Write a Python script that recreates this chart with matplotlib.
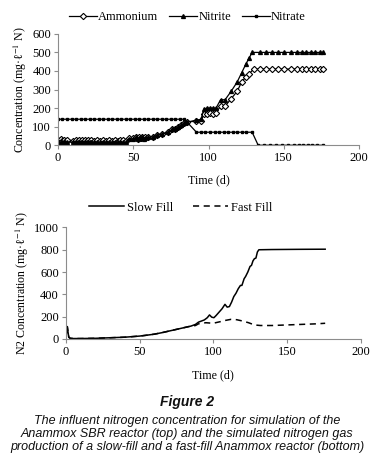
import numpy as np
import matplotlib
matplotlib.use("Agg")
import matplotlib.pyplot as plt

# ---- top panel: influent concentrations ----
amm_day = [0, 1, 2, 3, 4, 5, 6, 10, 11, 12, 13, 14, 15, 16, 18, 19, 20, 21, 22, 24, 26,
           28, 30, 32, 34, 36, 38, 40, 41, 43, 45, 47, 50, 52, 53, 54, 55, 56, 57, 58, 60,
           63, 66, 69, 73, 76, 78, 80, 82, 84, 86, 92, 95, 97, 99, 101, 103, 105, 108, 111,
           115, 119, 122, 125, 127, 130, 134, 138, 142, 146, 150, 155, 159, 162, 165, 168,
           171, 174, 176]
amm_val = [30, 20, 32, 22, 30, 18, 28, 25, 18, 30, 22, 28, 20, 26, 30, 22, 28, 20, 30, 24,
           28, 22, 30, 24, 28, 22, 30, 24, 30, 28, 25, 40, 38, 45, 35, 42, 40, 45, 38, 42, 45,
           45, 55, 60, 70, 85, 90, 100, 110, 120, 125, 130, 130, 170, 170, 175, 170, 175,
           210, 210, 250, 290, 340, 370, 385, 410, 410, 410, 410, 410, 410, 410, 410, 410,
           410, 410, 410, 410, 410]

nit_day = [0, 1, 2, 3, 4, 5, 6, 10, 11, 12, 13, 14, 15, 16, 18, 19, 20, 21, 22, 24, 26,
           28, 30, 32, 34, 36, 38, 40, 41, 43, 45, 47, 50, 52, 53, 54, 55, 56, 57, 58, 60,
           63, 66, 69, 73, 76, 78, 80, 82, 84, 86, 92, 95, 97, 99, 101, 103, 105, 108, 111,
           115, 119, 122, 125, 127, 129, 134, 138, 142, 146, 150, 155, 159, 162, 165, 168,
           171, 174, 176]
nit_val = [15, 18, 14, 20, 16, 18, 15, 18, 14, 20, 16, 18, 15, 18, 20, 16, 18, 15, 20, 16,
           18, 15, 20, 16, 18, 15, 20, 16, 18, 16, 15, 35, 35, 42, 32, 40, 38, 42, 35, 40, 42,
           45, 55, 60, 70, 85, 90, 100, 110, 120, 125, 135, 140, 195, 200, 200, 200, 200,
           245, 245, 290, 340, 390, 440, 470, 500, 500, 500, 500, 500, 500, 500, 500, 500,
           500, 500, 500, 500, 500]

nat_day = [0, 3, 6, 9, 12, 15, 18, 21, 24, 27, 30, 33, 36, 39, 42, 45, 48, 51, 54, 57, 60,
           63, 66, 69, 72, 75, 78, 81, 84, 92, 95, 98, 101, 104, 107, 110, 113, 116, 119,
           122, 125, 129, 133, 137, 141, 145, 149, 153, 157, 160, 163, 166, 169, 172, 176]
nat_val = [140] * 29 + [70] * 13 + [0] * 13

# ---- bottom panel: simulated N2 ----
slow_day = [0, 0.5, 1, 1.5, 2, 3, 5, 10, 20, 30, 40, 50, 55, 60, 65, 70, 75, 80, 85, 88,
            90, 92, 94, 96, 97.5, 99, 100.5, 102, 104, 106, 108, 109.5, 111, 112.5, 114,
            115.5, 117, 118.5, 119.5, 121, 122, 123.5, 125, 126, 127, 128, 129, 130, 131,
            140, 150, 160, 176]
slow_val = [0, 60, 110, 60, 15, 5, 3, 3, 5, 10, 15, 25, 33, 42, 55, 70, 85, 100, 115, 130,
            150, 160, 170, 190, 215, 195, 190, 210, 240, 270, 310, 285, 290, 330, 380, 410,
            450, 480, 480, 540, 560, 600, 650, 660, 700, 720, 725, 780, 800, 802, 803, 804,
            805]

fast_day = [0, 0.5, 1, 1.5, 2, 3, 5, 10, 20, 30, 40, 50, 55, 60, 65, 70, 75, 80, 85, 88,
            90, 95, 100, 105, 108, 112, 116, 120, 124, 128, 132, 140, 150, 160, 170, 176]
fast_val = [0, 60, 110, 60, 15, 5, 3, 3, 5, 10, 15, 25, 33, 42, 55, 70, 85, 100, 115, 120,
            135, 145, 140, 155, 165, 175, 172, 160, 145, 125, 120, 120, 125, 130, 135, 140]

serif = "Liberation Serif"
plt.rcParams["font.family"] = serif
plt.rcParams["mathtext.fontset"] = "stix"
plt.rcParams["font.size"] = 8.6

fig = plt.figure(figsize=(3.74, 4.70), dpi=100)


def style_axes(ax):
    for s in ["top", "right"]:
        ax.spines[s].set_visible(False)
    for s in ["left", "bottom"]:
        ax.spines[s].set_color("#8c8c8c")
        ax.spines[s].set_linewidth(0.8)
    ax.tick_params(axis="both", direction="out", length=3, width=0.8, color="#8c8c8c",
                   labelsize=9, pad=2)


ax1 = fig.add_axes([0.155, 0.691, 0.805, 0.237])
ax1.plot(amm_day, amm_val, color="black", lw=0.9, marker="D", ms=3.2,
         mfc="white", mec="black", mew=0.8, label="Ammonium")
ax1.plot(nit_day, nit_val, color="black", lw=0.9, marker="^", ms=2.8,
         label="Nitrite")
ax1.plot(nat_day, nat_val, color="black", lw=0.9, marker="s", ms=2.0,
         label="Nitrate")
ax1.set_xlim(0, 200)
ax1.set_ylim(0, 600)
ax1.set_xticks([0, 50, 100, 150, 200])
ax1.set_yticks(range(0, 601, 100))
ax1.set_xlabel("Time (d)", fontsize=8.6, labelpad=7)
ax1.set_ylabel("Concentration (mg·ℓ$^{-1}$ N)", fontsize=8.6, labelpad=2)
style_axes(ax1)
ax1.legend(loc="lower center", bbox_to_anchor=(0.43, 1.05), ncol=3, frameon=False,
           fontsize=9, handlelength=2.2, handletextpad=0.1, columnspacing=0.9,
           borderaxespad=0)

ax2 = fig.add_axes([0.176, 0.279, 0.788, 0.237])
ax2.plot(slow_day, slow_val, color="black", lw=1.1, label="Slow Fill")
ax2.plot(fast_day, fast_val, color="black", lw=1.1, ls=(0, (4, 3)), label="Fast Fill")
ax2.set_xlim(0, 200)
ax2.set_ylim(0, 1000)
ax2.set_xticks([0, 50, 100, 150, 200])
ax2.set_yticks(range(0, 1001, 200))
ax2.set_xlabel("Time (d)", fontsize=8.6, labelpad=8)
ax2.set_ylabel("N2 Concentration (mg·ℓ$^{-1}$ N)", fontsize=8.6, labelpad=2)
style_axes(ax2)
ax2.legend(loc="lower center", bbox_to_anchor=(0.39, 1.08), ncol=2, frameon=False,
           fontsize=9, handlelength=2.8, handletextpad=0.2, columnspacing=1.6,
           borderaxespad=0)

fig.text(0.5, 0.145, "Figure 2", ha="center", va="center", family="Liberation Sans",
         fontsize=10, fontweight="bold", style="italic", color="#111111")
caption = ("The influent nitrogen concentration for simulation of the\n"
           "Anammox SBR reactor (top) and the simulated nitrogen gas\n"
           "production of a slow-fill and a fast-fill Anammox reactor (bottom)")
fig.text(0.5, 0.077, caption, ha="center", va="center", family="Liberation Sans",
         fontsize=9, style="italic", linespacing=1.08, color="#111111")

fig.savefig("out.png", dpi=100)
